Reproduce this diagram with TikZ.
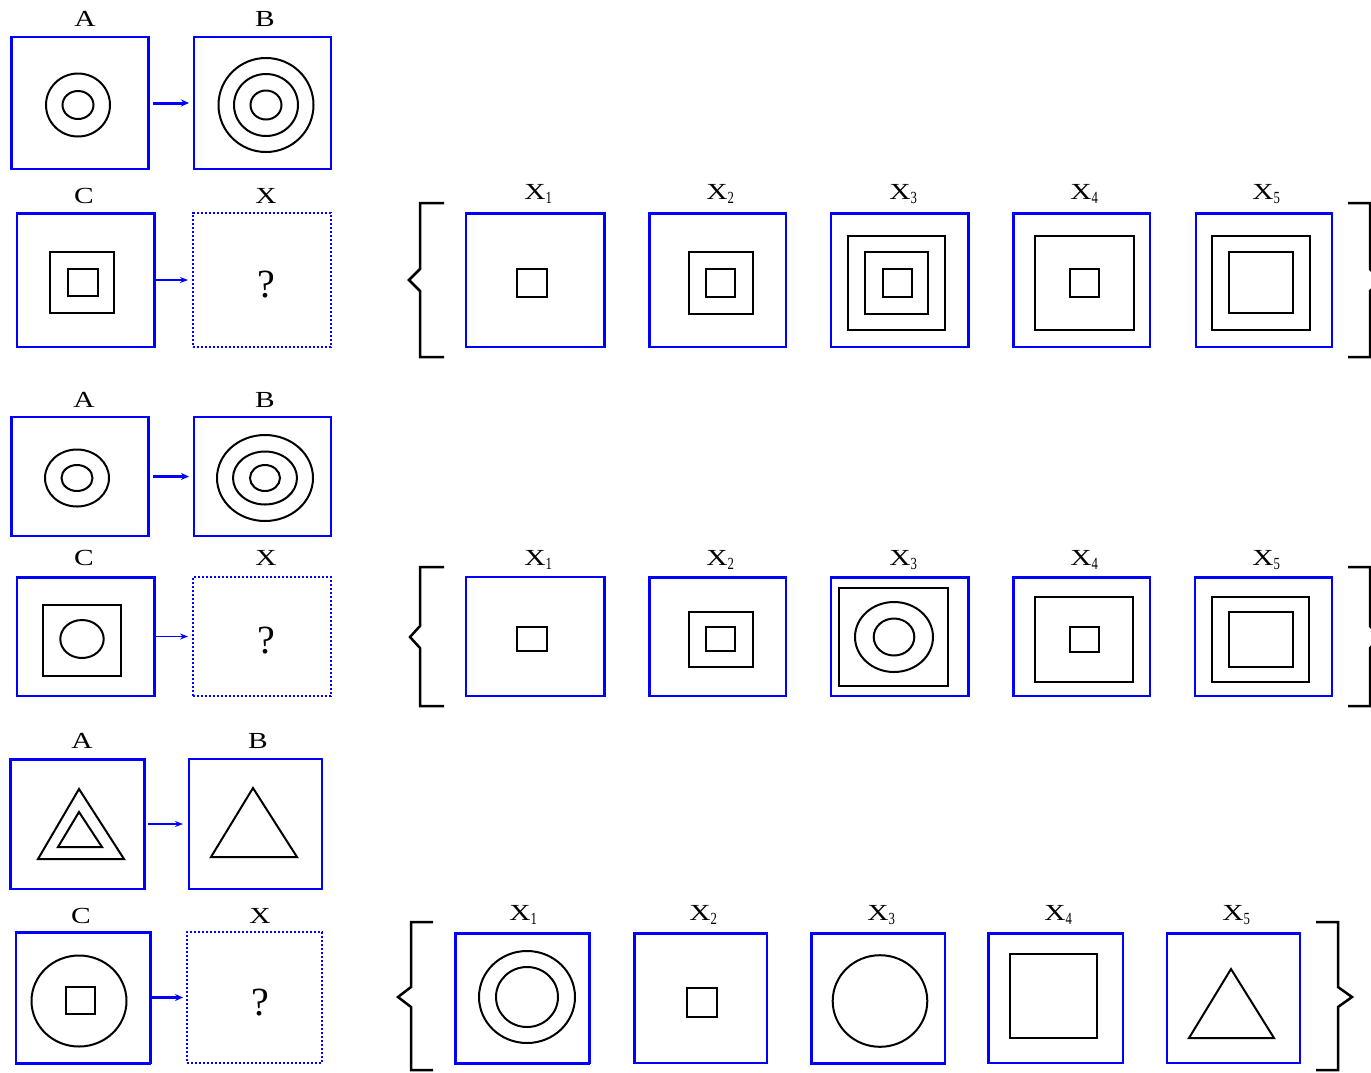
\documentclass[tikz,border=0pt]{standalone}
\usepackage{fontspec}
\setmainfont{Liberation Serif}
\usepackage{graphicx}
\usetikzlibrary{arrows.meta,fit}
\newcommand\wl[1]{\scalebox{1.28}[1]{#1}}
\newcommand\xlab[1]{\wl{X}\rlap{\raisebox{-4pt}{\scalebox{0.75}[1]{\fontsize{17}{17}\selectfont #1}}}}
\newcommand\thkL[1]{\draw[bthick] (#1.north west) -- (#1.south west);}
\newcommand\thkR[1]{\draw[bthick] (#1.north east) -- (#1.south east);}
\newcommand\thkT[1]{\draw[bthick] (#1.north west) -- (#1.north east);}
\newcommand\thkB[1]{\draw[bthick] (#1.south west) -- (#1.south east);}
\begin{document}
\begin{tikzpicture}[x=1pt,y=-1pt,
 bbox/.style={draw=blue, line width=1.5pt, inner sep=0pt, outer sep=0pt},
 dbox/.style={draw=blue, line width=2.2pt, dash pattern=on 2.2pt off 1.8pt, inner sep=0pt, outer sep=0pt},
 bthick/.style={draw=blue, line width=3pt, line cap=rect, shorten <=0.75pt, shorten >=0.75pt},
 sh/.style={line width=1.7pt},
 shk/.style={line width=2.8pt},
 cir/.style={line width=2pt},
 tri/.style={line width=2pt, line join=miter},
 lab/.style={font=\fontsize{23}{23}\selectfont, inner sep=0pt, anchor=base},
 qm/.style={font=\fontsize{40}{40}\selectfont, inner sep=0pt, anchor=base},
 arrT/.style={draw=blue, line width=3pt, -{Stealth[length=8pt,width=7pt]}},
 arrN/.style={draw=blue, line width=1.5pt, -{Stealth[length=8pt,width=6pt]}},
 brace/.style={line width=2.5pt, line join=miter}]
\useasboundingbox (0,0) rectangle (1371,1072);
\clip (0,0) rectangle (1371,1072);

% ================= ROW 1 =================
\node[bbox, fit={(11,37) (148,169)}] (A1) {};
\node[bbox, fit={(194,37) (331,169)}] (B1) {};
\node[bbox, fit={(17,213) (154,347)}] (C1) {};
\node[dbox, fit={(193,213) (331,347)}] (Q1) {};
\thkL{A1}\thkR{A1}\thkT{C1}\thkR{C1}
\node[lab] (tA1) at (85,26) {\wl{A}};
\node[lab] (tB1) at (265,26) {\wl{B}};
\node[lab] (tC1) at (84,203) {\wl{C}};
\node[lab] (tQ1) at (266,203) {\wl{X}};
\node[qm] (q1) at (266,297) {?};
\draw[arrT, shorten <=5pt, shorten >=5pt] (A1.east) -- (B1.west);
\draw[arrN, shorten <=1pt, shorten >=5pt] (C1.east) -- (Q1.west);
% A
\draw[cir] (78,105) ellipse [x radius=32, y radius=31.5];
\draw[cir] (78,105) ellipse [x radius=15.5, y radius=14];
% B
\draw[cir] (266,105) ellipse [x radius=47.5, y radius=47];
\draw[cir] (266,105) ellipse [x radius=32, y radius=31];
\draw[cir] (266,105) ellipse [x radius=15.5, y radius=14.5];
% C
\draw[sh] (50,252) rectangle (114,313);
\draw[shk] (50,252) -- (50,313);
\draw[sh] (68,269) rectangle (98,296);

\node[bbox, fit={(466,213) (604,347)}] (X11) {};
\node[bbox, fit={(649,213) (786,347)}] (X12) {};
\node[bbox, fit={(831,213) (968,347)}] (X13) {};
\node[bbox, fit={(1013,213) (1150,347)}] (X14) {};
\node[bbox, fit={(1196,213) (1332,347)}] (X15) {};
\thkT{X11}\thkR{X11}\thkL{X12}\thkT{X12}\thkT{X13}\thkR{X13}\thkL{X14}\thkT{X14}\thkT{X15}
\node[lab] (t11) at (535,199) {\xlab{1}};
\node[lab] (t12) at (717,199) {\xlab{2}};
\node[lab] (t13) at (900,199) {\xlab{3}};
\node[lab] (t14) at (1081,199) {\xlab{4}};
\node[lab] (t15) at (1263,199) {\xlab{5}};
\draw[sh] (517,269) rectangle (547,297);
\draw[sh] (689,252) rectangle (753,314); \draw[shk] (753,252) -- (753,314);
\draw[sh] (706,269) rectangle (735,297);
\draw[sh] (848,236) rectangle (945,330); \draw[shk] (848,236) -- (848,330);
\draw[sh] (865,252) rectangle (928,314); \draw[shk] (865,252) -- (865,314);
\draw[sh] (883,269) rectangle (912,297);
\draw[sh] (1035,236) rectangle (1134,330); \draw[shk] (1035,236) -- (1035,330); \draw[shk] (1134,236) -- (1134,330);
\draw[sh] (1070,269) rectangle (1099,297);
\draw[sh] (1212,236) rectangle (1310,330);
\draw[sh] (1229,252) rectangle (1293,313); \draw[shk] (1229,252) -- (1229,313);
\draw[brace] (444,203) -- (420,203) -- (420,269) -- (409,280) -- (420,291) -- (420,357) -- (444,357);
\draw[brace] (1348,203) -- (1370,203) -- (1370,269) -- (1381,280) -- (1370,291) -- (1370,357) -- (1348,357);

% ================= ROW 2 =================
\node[bbox, fit={(11,417) (148,536)}] (A2) {};
\node[bbox, fit={(194,417) (331,536)}] (B2) {};
\node[bbox, fit={(17,577) (154,696)}] (C2) {};
\node[dbox, fit={(193,577) (331,696)}] (Q2) {};
\thkL{A2}\thkR{A2}\thkT{C2}\thkR{C2}
\node[lab] (tA2) at (84,407) {\wl{A}};
\node[lab] (tB2) at (265,407) {\wl{B}};
\node[lab] (tC2) at (84,565) {\wl{C}};
\node[lab] (tQ2) at (266,565) {\wl{X}};
\node[qm] (q2) at (266,653) {?};
\draw[arrT, shorten <=5pt, shorten >=5pt] (A2.east) -- (B2.west);
\draw[arrN, shorten <=1pt, shorten >=5pt] (C2.east) -- (Q2.west);
\draw[cir] (77,478) ellipse [x radius=32, y radius=28.5];
\draw[cir] (77,478) ellipse [x radius=15.5, y radius=13];
\draw[cir] (265,478) ellipse [x radius=48, y radius=43];
\draw[cir] (265,478) ellipse [x radius=32, y radius=26.5];
\draw[cir] (265,478) ellipse [x radius=15, y radius=13];
\draw[sh] (43,605) rectangle (121,676);
\draw[cir] (82,639) ellipse [x radius=21.7, y radius=19];

\node[bbox, fit={(466,577) (604,696)}] (X21) {};
\node[bbox, fit={(649,577) (786,696)}] (X22) {};
\node[bbox, fit={(831,577) (968,696)}] (X23) {};
\node[bbox, fit={(1013,577) (1150,696)}] (X24) {};
\node[bbox, fit={(1195,577) (1332,696)}] (X25) {};
\thkR{X21}\thkL{X22}\thkT{X22}\thkT{X23}\thkR{X23}\thkL{X24}\thkT{X24}\thkT{X25}
\node[lab] (t21) at (535,565) {\xlab{1}};
\node[lab] (t22) at (717,565) {\xlab{2}};
\node[lab] (t23) at (900,565) {\xlab{3}};
\node[lab] (t24) at (1081,565) {\xlab{4}};
\node[lab] (t25) at (1263,565) {\xlab{5}};
\draw[sh] (517,627) rectangle (547,651);
\draw[sh] (689,612) rectangle (753,667); \draw[shk] (753,612) -- (753,667);
\draw[sh] (706,627) rectangle (735,651);
\draw[sh] (839,588) rectangle (948,686);
\draw[cir] (894,637) ellipse [x radius=39, y radius=35];
\draw[cir] (894,637) ellipse [x radius=20.3, y radius=18.5];
\draw[sh] (1035,597) rectangle (1133,682); \draw[shk] (1035,597) -- (1035,682); \draw[shk] (1133,597) -- (1133,682);
\draw[sh] (1070,627) rectangle (1099,652);
\draw[sh] (1212,597) rectangle (1309,682);
\draw[sh] (1229,612) rectangle (1293,667); \draw[shk] (1229,612) -- (1229,667);
\draw[brace] (444,567) -- (420,567) -- (420,626) -- (410,637) -- (420,648) -- (420,706) -- (444,706);
\draw[brace] (1348,567) -- (1370,567) -- (1370,626) -- (1381,637) -- (1370,648) -- (1370,706) -- (1348,706);

% ================= ROW 3 =================
\node[bbox, fit={(10,759) (144,889)}] (A3) {};
\node[bbox, fit={(189,759) (322,889)}] (B3) {};
\node[bbox, fit={(16,932) (150,1063)}] (C3) {};
\node[dbox, fit={(187,932) (322,1063)}] (Q3) {};
\thkL{A3}\thkR{A3}\thkT{A3}\thkT{C3}\thkR{C3}\thkB{C3}
\node[lab] (tA3) at (82,748) {\wl{A}};
\node[lab] (tB3) at (258,748) {\wl{B}};
\node[lab] (tC3) at (81,923) {\wl{C}};
\node[lab] (tQ3) at (260,923) {\wl{X}};
\node[qm] (q3) at (260,1015) {?};
\draw[arrN, shorten <=4pt, shorten >=6pt] (A3.east) -- (B3.west);
\draw[arrT, shorten <=1pt, shorten >=4pt] (C3.east) -- (Q3.west);
\draw[tri] (79,789) -- (38,859) -- (124,859) -- cycle;
\draw[shk] (38,859) -- (124,859);
\draw[tri] (79,812) -- (58,847) -- (102,847) -- cycle;
\draw[tri] (253,788) -- (211,857) -- (297,857) -- cycle;
\draw[cir] (79,1001) ellipse [x radius=47.5, y radius=45.5];
\draw[sh] (66,987) rectangle (95,1014); \draw[shk] (66,1014) -- (95,1014);

\node[bbox, fit={(455,933) (589,1063)}] (X31) {};
\node[bbox, fit={(634,933) (767,1063)}] (X32) {};
\node[bbox, fit={(811,933) (945,1063)}] (X33) {};
\node[bbox, fit={(988,933) (1123,1063)}] (X34) {};
\node[bbox, fit={(1167,933) (1300,1063)}] (X35) {};
\thkL{X31}\thkR{X31}\thkT{X31}\thkB{X31}\thkL{X32}\thkT{X32}\thkT{X33}\thkL{X33}\thkB{X33}\thkL{X34}\thkT{X34}\thkT{X35}
\node[lab] (t31) at (520,920) {\xlab{1}};
\node[lab] (t32) at (700,920) {\xlab{2}};
\node[lab] (t33) at (878,920) {\xlab{3}};
\node[lab] (t34) at (1055,920) {\xlab{4}};
\node[lab] (t35) at (1233,920) {\xlab{5}};
\draw[cir] (527,997) ellipse [x radius=48, y radius=46];
\draw[cir] (527,997) ellipse [x radius=31, y radius=30];
\draw[line width=2.6pt] (687,988) rectangle (717,1017);
\draw[cir] (880,1001) ellipse [x radius=47.3, y radius=45.8];
\draw[line width=2.5pt] (1010,954) rectangle (1097,1038);
\draw[tri] (1231,969) -- (1189,1038) -- (1274,1038) -- cycle;
\draw[brace] (433,922) -- (411,922) -- (411,987) -- (398,997) -- (411,1007) -- (411,1070) -- (433,1070);
\draw[brace] (1316,922) -- (1338,922) -- (1338,987) -- (1352,997) -- (1338,1007) -- (1338,1070) -- (1316,1070);
\end{tikzpicture}
\end{document}
